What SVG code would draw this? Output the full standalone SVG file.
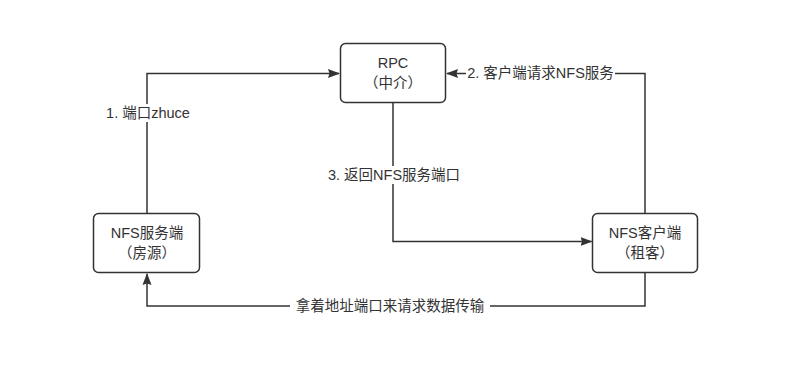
<svg xmlns="http://www.w3.org/2000/svg" width="796" height="377" viewBox="0 0 796 377">
<style>
  .node rect { fill: #ffffff; stroke: #333333; stroke-width: 1.5; }
  text { font-family: "Liberation Sans", "Noto Sans CJK SC", sans-serif; font-size: 14.5px; fill: #333333; text-anchor: middle; }
  .edge { fill: none; stroke: #333333; stroke-width: 1.5; }
  .lbl { fill: #ffffff; }
</style>
<defs>
  <marker id="arr" viewBox="0 0 12 10" refX="11" refY="5" markerWidth="12" markerHeight="10" markerUnits="userSpaceOnUse" orient="auto">
    <path d="M0,0.5 L12,5 L0,9.5 L1.5,5 z" fill="#333333"/>
  </marker>
</defs>
<rect width="796" height="377" fill="#ffffff"/>
<g id="connectors">
  <path class="edge" d="M147,213 V73.5 H339" marker-end="url(#arr)"/>
  <path class="edge" d="M645,213 V73.5 H447" marker-end="url(#arr)"/>
  <path class="edge" d="M393,103 V241.5 H591.5" marker-end="url(#arr)"/>
  <path class="edge" d="M645,273 V306 H147 V274" marker-end="url(#arr)"/>
  <g id="label1">
    <rect class="lbl" x="105" y="104" width="86" height="18"/>
    <text x="148" y="118">1. 端口zhuce</text>
  </g>
  <g id="label2">
    <rect class="lbl" x="466" y="64" width="149" height="18"/>
    <text x="540.5" y="78">2. 客户端请求NFS服务</text>
  </g>
  <g id="label3">
    <rect class="lbl" x="328" y="166" width="132" height="18"/>
    <text x="394" y="180">3. 返回NFS服务端口</text>
  </g>
  <g id="label4">
    <rect class="lbl" x="290" y="297" width="200" height="18"/>
    <text x="390" y="311">拿着地址端口来请求数据传输</text>
  </g>
</g>
<g id="rpc" class="node">
  <rect x="340.5" y="43.5" width="105" height="59" rx="5" ry="5"/>
  <text x="393" y="68">RPC</text>
  <text x="393" y="88">（中介）</text>
</g>
<g id="nfs-server" class="node">
  <rect x="93.5" y="213.5" width="106" height="59" rx="5" ry="5"/>
  <text x="147" y="238">NFS服务端</text>
  <text x="147" y="258">（房源）</text>
</g>
<g id="nfs-client" class="node">
  <rect x="592.5" y="213.5" width="105" height="59" rx="5" ry="5"/>
  <text x="645" y="238">NFS客户端</text>
  <text x="645" y="258">（租客）</text>
</g>
</svg>
